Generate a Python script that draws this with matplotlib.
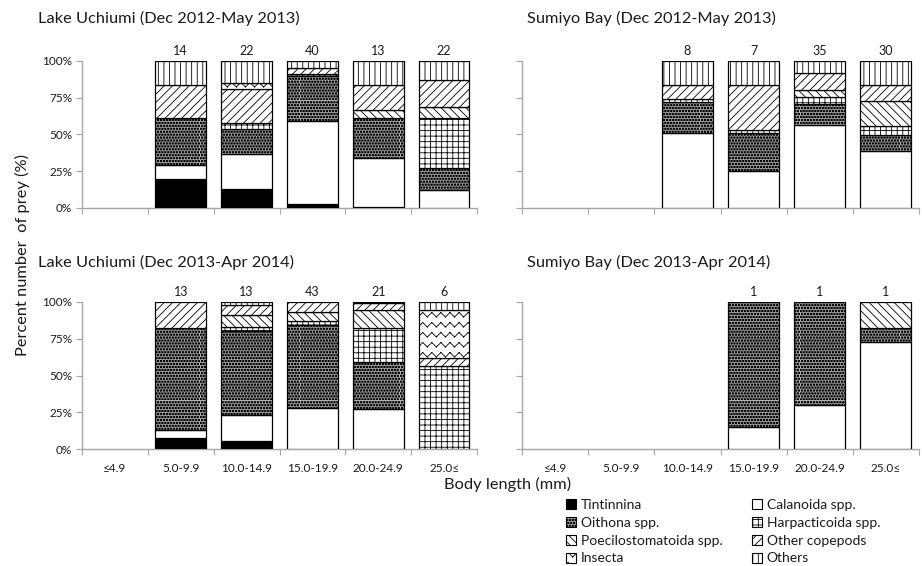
import warnings
import numpy as np
import matplotlib
matplotlib.use("Agg")
import matplotlib.pyplot as plt
from matplotlib import hatch as mhatch
from matplotlib.path import Path
from matplotlib.patches import Patch
from matplotlib.ticker import FixedLocator, PercentFormatter, NullFormatter

warnings.filterwarnings("ignore")

# ---------------------------------------------------------------- data
size_classes = ["≤4.9", "5.0-9.9", "10.0-14.9", "15.0-19.9", "20.0-24.9", "25.0≤"]

prey_names = ["Tintinnina", "Calanoida spp.", "Oithona spp.", "Harpacticoida spp.",
              "Poecilostomatoida spp.", "Other copepods", "Insecta", "Others"]

# percent of prey number per body-length class (rows follow prey_names)
uchiumi_2012 = {
    "Tintinnina":             [0, 20, 13, 2.5, 1, 0],
    "Calanoida spp.":         [0, 9, 24, 57, 33, 12],
    "Oithona spp.":           [0, 32, 17, 30.5, 27, 15.5],
    "Harpacticoida spp.":     [0, 0, 4, 1, 0, 33.5],
    "Poecilostomatoida spp.": [0, 0, 0, 0, 6, 8],
    "Other copepods":         [0, 23, 23, 4, 17, 18],
    "Insecta":                [0, 0, 4, 0, 0, 0],
    "Others":                 [0, 16, 15, 5, 16, 13],
}
uchiumi_2012_n = [None, 14, 22, 40, 13, 22]

sumiyo_2012 = {
    "Tintinnina":             [0, 0, 0, 0, 0, 0],
    "Calanoida spp.":         [0, 0, 51, 25, 56.5, 38.5],
    "Oithona spp.":           [0, 0, 21, 26, 14, 11],
    "Harpacticoida spp.":     [0, 0, 2, 2, 5, 6.5],
    "Poecilostomatoida spp.": [0, 0, 0, 0, 5, 17],
    "Other copepods":         [0, 0, 9.5, 30.5, 11.5, 11],
    "Insecta":                [0, 0, 0, 0, 0, 0],
    "Others":                 [0, 0, 16.5, 16.5, 8, 16],
}
sumiyo_2012_n = [None, None, 8, 7, 35, 30]

uchiumi_2013 = {
    "Tintinnina":             [0, 7.5, 5.5, 0, 0, 0],
    "Calanoida spp.":         [0, 5.5, 17.5, 28, 27, 0],
    "Oithona spp.":           [0, 69, 57, 56.5, 32.5, 0],
    "Harpacticoida spp.":     [0, 0, 3, 2.5, 23, 56.5],
    "Poecilostomatoida spp.": [0, 0, 8, 6.5, 12, 0],
    "Other copepods":         [0, 18, 7, 6.5, 4.5, 5.5],
    "Insecta":                [0, 0, 0, 0, 0, 32.5],
    "Others":                 [0, 0, 2, 0, 1, 5.5],
}
uchiumi_2013_n = [None, 13, 13, 43, 21, 6]

sumiyo_2013 = {
    "Tintinnina":             [0, 0, 0, 0, 0, 0],
    "Calanoida spp.":         [0, 0, 0, 15, 30, 73],
    "Oithona spp.":           [0, 0, 0, 85, 70, 9.5],
    "Harpacticoida spp.":     [0, 0, 0, 0, 0, 0],
    "Poecilostomatoida spp.": [0, 0, 0, 0, 0, 17.5],
    "Other copepods":         [0, 0, 0, 0, 0, 0],
    "Insecta":                [0, 0, 0, 0, 0, 0],
    "Others":                 [0, 0, 0, 0, 0, 0],
}
sumiyo_2013_n = [None, None, None, 1, 1, 1]

panel_titles = ["Lake Uchiumi (Dec 2012-May 2013)", "Sumiyo Bay (Dec 2012-May 2013)",
                "Lake Uchiumi (Dec 2013-Apr 2014)", "Sumiyo Bay (Dec 2013-Apr 2014)"]


# ---------------------------------------------------------------- extra hatches
class ZigzagHatch(mhatch.HatchPatternBase):
    """Rows of small zigzags (hatch letter 'z'), built from separate strokes."""
    rows = 10
    teeth = 11
    amp = 0.045

    def __init__(self, hatch, density):
        self.num_rows = self.rows if "z" in hatch else 0
        self.num_vertices = self.num_rows * (2 * self.teeth) * 2

    def set_vertices_and_codes(self, vertices, codes):
        nseg = 2 * self.teeth
        xs = np.linspace(0, 1, nseg + 1)
        ys = np.where(np.arange(nseg + 1) % 2 == 0, 0.0, self.amp)
        k = 0
        for i in range(self.num_rows):
            y0 = (i + 0.3) / self.num_rows
            for j in range(nseg):
                vertices[k] = (xs[j], y0 + ys[j])
                vertices[k + 1] = (xs[j + 1], y0 + ys[j + 1])
                codes[k] = Path.MOVETO
                codes[k + 1] = Path.LINETO
                k += 2


class DotGridHatch(mhatch.HatchPatternBase):
    """Fine staggered grid of small filled squares (hatch letter 'c')."""
    cells = 34
    side = 0.45

    def __init__(self, hatch, density):
        self.n = self.cells if "c" in hatch else 0
        self.num_vertices = self.n * self.n * 5

    def set_vertices_and_codes(self, vertices, codes):
        step = 1.0 / self.n
        s = self.side * step
        k = 0
        for r in range(self.n):
            for c in range(self.n):
                x0 = c * step + (0.5 * step if r % 2 else 0.0)
                y0 = r * step
                vertices[k:k + 5] = [(x0, y0), (x0 + s, y0), (x0 + s, y0 + s),
                                     (x0, y0 + s), (x0, y0)]
                codes[k] = Path.MOVETO
                codes[k + 1:k + 4] = Path.LINETO
                codes[k + 4] = Path.CLOSEPOLY
                k += 5


mhatch._hatch_types.append(ZigzagHatch)
mhatch._hatch_types.append(DotGridHatch)

# ---------------------------------------------------------------- styling
plt.rcParams["font.family"] = ["Lato", "DejaVu Sans"]
plt.rcParams["hatch.linewidth"] = 0.6
plt.rcParams["hatch.color"] = "black"

prey_style = {
    "Tintinnina":             dict(facecolor="black", hatch=None),
    "Calanoida spp.":         dict(facecolor="white", hatch=None),
    "Oithona spp.":           dict(facecolor="#b0b0b0", hatch="c"),
    "Harpacticoida spp.":     dict(facecolor="white", hatch="+++"),
    "Poecilostomatoida spp.": dict(facecolor="white", hatch="\\\\\\\\"),
    "Other copepods":         dict(facecolor="white", hatch="////"),
    "Insecta":                dict(facecolor="white", hatch="z"),
    "Others":                 dict(facecolor="white", hatch="|||"),
}

axis_grey = "#a6a6a6"
text_col = "#1a1a1a"

fig = plt.figure(figsize=(9.22, 5.66), dpi=100)

W, H = 922, 566
left_px = [82, 522]
width_px = [395, 397]
top_px = [61, 302]
height_px = 147


def draw_panel(ax, data, counts, show_ylabels, show_xlabels):
    x = np.arange(len(size_classes)) + 0.5
    bottom = np.zeros(len(size_classes))
    for name in prey_names:
        vals = np.asarray(data[name], dtype=float)
        keep = vals > 0
        if keep.any():
            st = prey_style[name]
            ax.bar(x[keep], vals[keep], bottom=bottom[keep], width=0.77,
                   facecolor=st["facecolor"], hatch=st["hatch"],
                   edgecolor="black", linewidth=0.9, zorder=3)
        bottom += vals
    for xi, n in zip(x, counts):
        if n is not None:
            ax.annotate(str(n), (xi, 100), xytext=(0, 3), textcoords="offset points",
                        ha="center", va="bottom", fontsize=9, color=text_col,
                        annotation_clip=False)
    ax.set_xlim(0, len(size_classes))
    ax.set_ylim(0, 100)
    for side in ("top", "right"):
        ax.spines[side].set_visible(False)
    for side in ("left", "bottom"):
        ax.spines[side].set_color(axis_grey)
        ax.spines[side].set_linewidth(1.0)
    ax.xaxis.set_major_locator(FixedLocator(np.arange(len(size_classes) + 1)))
    ax.xaxis.set_major_formatter(NullFormatter())
    ax.xaxis.set_minor_locator(FixedLocator(x))
    if show_xlabels:
        ax.set_xticklabels(size_classes, minor=True)
    else:
        ax.xaxis.set_minor_formatter(NullFormatter())
    ax.tick_params(axis="x", which="major", length=4, color=axis_grey, direction="out")
    ax.tick_params(axis="x", which="minor", length=0, labelsize=8.5, colors=text_col, pad=10)
    ax.set_yticks([0, 25, 50, 75, 100])
    ax.yaxis.set_major_formatter(PercentFormatter(xmax=100, decimals=0))
    ax.tick_params(axis="y", length=4, color=axis_grey, labelsize=8.5, labelcolor=text_col, pad=3)
    if not show_ylabels:
        ax.set_yticklabels([])


panels = [(uchiumi_2012, uchiumi_2012_n), (sumiyo_2012, sumiyo_2012_n),
          (uchiumi_2013, uchiumi_2013_n), (sumiyo_2013, sumiyo_2013_n)]

for k, (data, counts) in enumerate(panels):
    row, col = divmod(k, 2)
    l = left_px[col] / W
    b = (H - top_px[row] - height_px) / H
    ax = fig.add_axes([l, b, width_px[col] / W, height_px / H])
    draw_panel(ax, data, counts, show_ylabels=(col == 0), show_xlabels=(row == 1))

# panel titles
title_x = [38 / W, 527 / W]
title_y = [1 - 18 / H, 1 - 262 / H]
for k, title in enumerate(panel_titles):
    row, col = divmod(k, 2)
    fig.text(title_x[col], title_y[row], title, ha="left", va="center",
             fontsize=11.8, color=text_col)

fig.text(22 / W, 1 - 255 / H, "Percent number  of prey (%)", rotation=90,
         ha="center", va="center", fontsize=11.8, color=text_col)
fig.text(508 / W, 1 - 484 / H, "Body length (mm)", ha="center", va="center",
         fontsize=11.8, color=text_col)

# legend: two columns placed side by side
def handles_for(names):
    return [Patch(facecolor=prey_style[n]["facecolor"], hatch=prey_style[n]["hatch"],
                  edgecolor="black", linewidth=0.8, label=n) for n in names]

legend_kw = dict(frameon=False, fontsize=10, handlelength=0.75, handleheight=0.75,
                 handletextpad=0.3, labelspacing=0.42, borderpad=0, borderaxespad=0,
                 loc="upper left")
col1 = ["Tintinnina", "Oithona spp.", "Poecilostomatoida spp.", "Insecta"]
col2 = ["Calanoida spp.", "Harpacticoida spp.", "Other copepods", "Others"]
leg1 = fig.legend(handles=handles_for(col1), bbox_to_anchor=(566 / W, 1 - 499 / H), **legend_kw)
leg2 = fig.legend(handles=handles_for(col2), bbox_to_anchor=(752 / W, 1 - 499 / H), **legend_kw)
for leg in (leg1, leg2):
    for t in leg.get_texts():
        t.set_color(text_col)

fig.savefig("out.png", dpi=100)
